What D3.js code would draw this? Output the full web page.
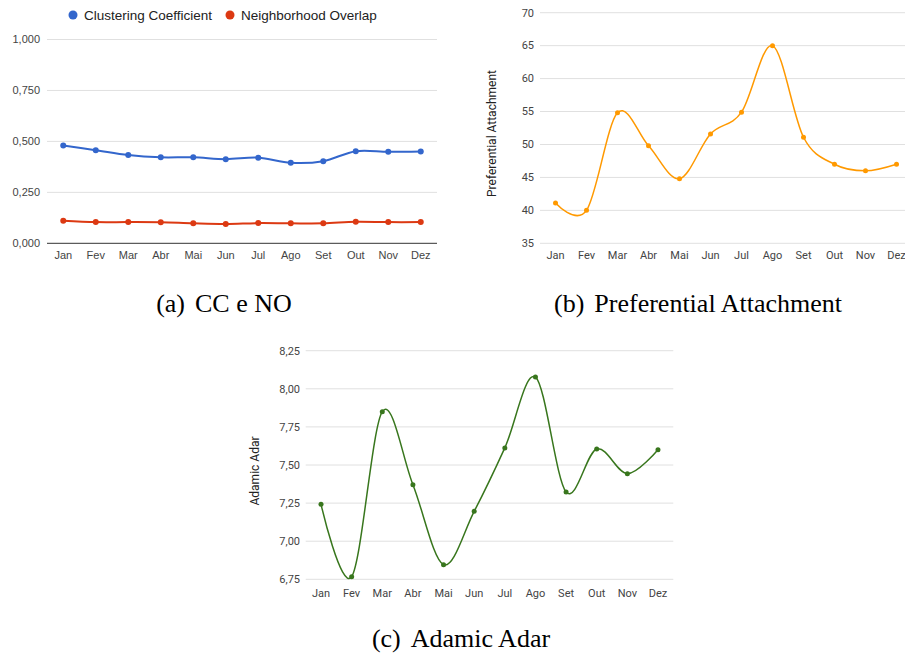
<!DOCTYPE html>
<html>
<head>
<meta charset="utf-8">
<script src="https://cdn.jsdelivr.net/npm/d3@7"></script>
<style>
  body { margin: 0; background: #fff; }
  svg { display: block; }
</style>
</head>
<body>
<svg id="chart" width="905" height="654"></svg>
<script>
const months = ['Jan', 'Fev', 'Mar', 'Abr', 'Mai', 'Jun', 'Jul', 'Ago', 'Set', 'Out', 'Nov', 'Dez'];

// (a) CC e NO
const ccValues = [0.480, 0.457, 0.433, 0.422, 0.422, 0.413, 0.420, 0.395, 0.403, 0.452, 0.449, 0.451];
const noValues = [0.111, 0.104, 0.104, 0.103, 0.098, 0.095, 0.099, 0.098, 0.098, 0.106, 0.104, 0.104];
const ccTicks = [0, 0.25, 0.5, 0.75, 1];
const legendNames = ['Clustering Coefficient', 'Neighborhood Overlap'];

// (b) Preferential Attachment
const paValues = [41.1, 40.0, 54.8, 49.8, 44.8, 51.6, 54.9, 65.0, 51.1, 47.0, 46.0, 47.0];
const paTicks = [35, 40, 45, 50, 55, 60, 65, 70];

// (c) Adamic Adar
const aaValues = [7.242, 6.767, 7.850, 7.371, 6.846, 7.196, 7.612, 8.077, 7.323, 7.605, 7.443, 7.600];
const aaTicks = [6.75, 7.00, 7.25, 7.50, 7.75, 8.00, 8.25];

const captions = [
  { tag: '(a)', text: 'CC e NO', x: 224, y: 312 },
  { tag: '(b)', text: 'Preferential Attachment', x: 698, y: 312 },
  { tag: '(c)', text: 'Adamic Adar', x: 461, y: 647 }
];

const ptBR = d3.formatLocale({ decimal: ',', thousands: '.', grouping: [3], currency: ['R$', ''] });
const svg = d3.select('#chart');
const curve = d3.curveCardinal.tension(0);

function drawPanel(p) {
  const g = svg.append('g').attr('font-family', p.font);

  const x = d3.scalePoint().domain(months).range(p.xRange).padding(0.5);
  const y = d3.scaleLinear().domain(p.yDomain).range(p.yRange);

  // gridlines
  g.selectAll('.grid')
    .data(p.ticks)
    .join('line')
    .attr('x1', p.xRange[0])
    .attr('x2', p.xRange[1])
    .attr('y1', d => y(d))
    .attr('y2', d => y(d))
    .attr('stroke', (d, i) => (i === 0 && p.darkBase) ? '#333' : '#e0e0e0')
    .attr('stroke-width', 1);

  // y tick labels
  g.selectAll('.ylab')
    .data(p.ticks)
    .join('text')
    .attr('x', p.yLabelX)
    .attr('y', d => y(d))
    .attr('dy', '0.35em')
    .attr('text-anchor', 'end')
    .attr('font-size', 11)
    .attr('fill', '#444')
    .text(p.fmt);

  // x labels
  g.selectAll('.xlab')
    .data(months)
    .join('text')
    .attr('x', d => x(d))
    .attr('y', p.xLabelY)
    .attr('text-anchor', 'middle')
    .attr('font-size', 11)
    .attr('fill', '#444')
    .text(d => d);

  if (p.title) {
    g.append('text')
      .attr('transform', `translate(${p.title.x},${p.title.y}) rotate(-90)`)
      .attr('text-anchor', 'middle')
      .attr('font-size', 12)
      .attr('fill', '#222')
      .text(p.title.text);
  }

  const line = d3.line()
    .x((d, i) => x(months[i]))
    .y(d => y(d))
    .curve(curve);

  p.series.forEach(s => {
    g.append('path')
      .attr('d', line(s.values))
      .attr('fill', 'none')
      .attr('stroke', s.color)
      .attr('stroke-width', p.lineWidth);
    g.selectAll(null)
      .data(s.values)
      .join('circle')
      .attr('cx', (d, i) => x(months[i]))
      .attr('cy', d => y(d))
      .attr('r', p.r)
      .attr('fill', s.color);
  });
}

drawPanel({
  font: 'Liberation Sans, Arial, sans-serif',
  xRange: [47, 437], yDomain: [0, 1], yRange: [243.3, 39.5],
  ticks: ccTicks, fmt: ptBR.format('.3f'), darkBase: true,
  yLabelX: 40, xLabelY: 259,
  lineWidth: 2, r: 3,
  series: [
    { values: ccValues, color: '#3366cc' },
    { values: noValues, color: '#dc3912' }
  ]
});

drawPanel({
  font: 'Roboto, sans-serif',
  xRange: [540, 912], yDomain: [35, 70], yRange: [243.3, 12.7],
  ticks: paTicks, fmt: ptBR.format('d'),
  yLabelX: 534, xLabelY: 259,
  lineWidth: 1.5, r: 2.5,
  title: { text: 'Preferential Attachment', x: 496, y: 133.5 },
  series: [{ values: paValues, color: '#ff9900' }]
});

drawPanel({
  font: 'Roboto, sans-serif',
  xRange: [305.7, 673.3], yDomain: [6.75, 8.25], yRange: [579.3, 350.7],
  ticks: aaTicks, fmt: ptBR.format('.2f'),
  yLabelX: 300, xLabelY: 596.5,
  lineWidth: 1.5, r: 2.5,
  title: { text: 'Adamic Adar', x: 259, y: 471 },
  series: [{ values: aaValues, color: '#38761d' }]
});

// legend for (a)
const legendColors = ['#3366cc', '#dc3912'];
const legendX = [73, 230];
const legend = svg.append('g')
  .attr('font-family', 'Liberation Sans, Arial, sans-serif')
  .selectAll('g')
  .data(legendNames)
  .join('g')
  .attr('transform', (d, i) => `translate(${legendX[i]},15)`);
legend.append('circle').attr('r', 4.5).attr('fill', (d, i) => legendColors[i]);
legend.append('text')
  .attr('x', 11)
  .attr('dy', '0.35em')
  .attr('font-size', 13.5)
  .attr('fill', '#222')
  .text(d => d);

// captions
const cap = svg.selectAll('.caption')
  .data(captions)
  .join('text')
  .attr('x', d => d.x)
  .attr('y', d => d.y)
  .attr('text-anchor', 'middle')
  .attr('font-family', 'Liberation Serif, Times New Roman, serif')
  .attr('font-size', 26)
  .attr('fill', '#000');
cap.append('tspan').text(d => d.tag);
cap.append('tspan').attr('dx', 10).text(d => d.text);
</script>
</body>
</html>
